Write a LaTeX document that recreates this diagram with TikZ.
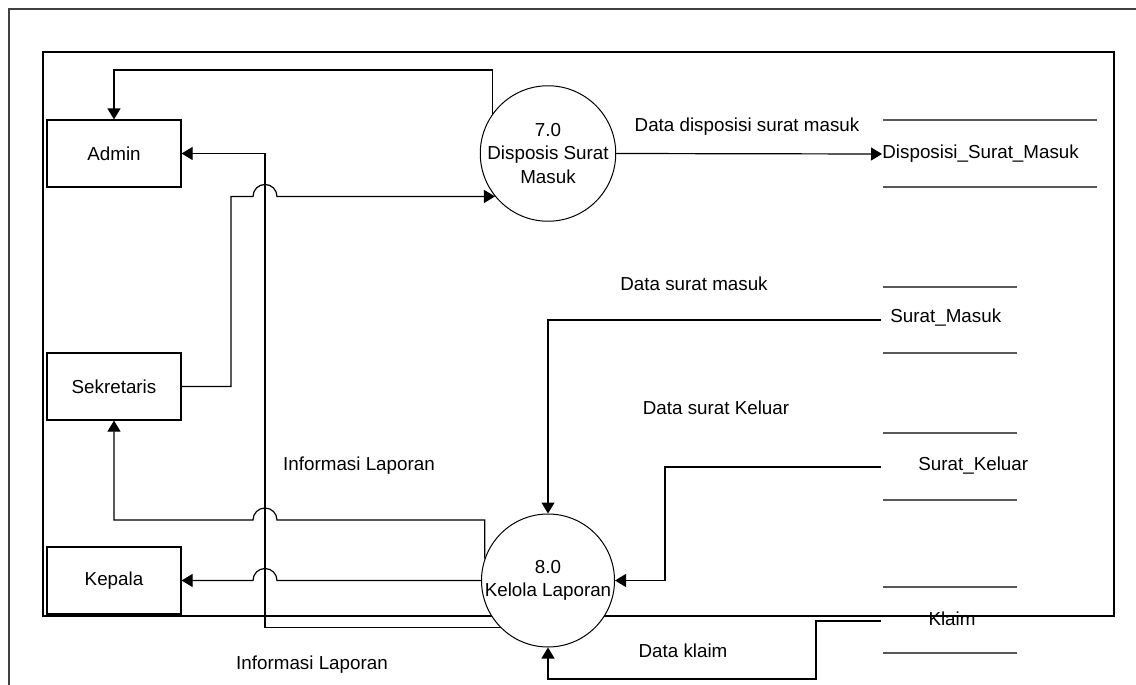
\documentclass[tikz,border=0pt]{standalone}
\usepackage{fontspec}
\setmainfont{Liberation Sans}
\usetikzlibrary{arrows.meta,calc}

\begin{document}
\begin{tikzpicture}[x=0.5pt,y=-0.5pt,
  font=\fontsize{9.4pt}{11.8pt}\selectfont,
  entity/.style={draw, line width=0.6pt, minimum width=67pt, minimum height=33.5pt, inner sep=0pt},
  proc/.style={draw, circle, fill=white, line width=0.5pt, minimum size=66.5pt, inner sep=0pt, align=center},
  storetext/.style={inner sep=0pt, anchor=west},
  storeline/.style={draw=black!65, line width=0.8pt},
  flow/.style={line width=0.6pt, -{Triangle[length=5.5pt,width=6.5pt]}},
  lbl/.style={inner sep=0pt},
  frame/.style={line width=0.6pt},
  outer/.style={draw=black!75, line width=1pt}
]
\useasboundingbox (0,0) rectangle (1136,685);

% page frame and context boundary
\draw[outer] (1136,8.5) -- (8.5,8.5) -- (8.5,685);
\draw[frame] (43,52) rectangle (1114,616);

% external entities
\node[entity] (admin) at (114,153.5) {Admin};
\node[entity] (sek)   at (114,386.5) {Sekretaris};
\node[entity] (kep)   at (114,580.5) {Kepala};

% processes
\node[proc] (p7) at (548,153.5) {7.0\\Disposis Surat\\Masuk};
\node[proc] (p8) at (548,580.5) {8.0\\Kelola Laporan};

% data stores
\draw[storeline] (883,120) -- (1097,120);
\draw[storeline] (883,187) -- (1097,187);
\node[storetext] (dsm) at (882,154) {Disposisi\_Surat\_Masuk};

\draw[storeline] (883,287) -- (1017,287);
\draw[storeline] (883,353) -- (1017,353);
\node[storetext] (sm) at (890,318) {Surat\_Masuk};

\draw[storeline] (883,433) -- (1017,433);
\draw[storeline] (883,500) -- (1017,500);
\node[storetext] (sk) at (918,466) {Surat\_Keluar};

\draw[storeline] (883,587) -- (1017,587);
\draw[storeline] (883,653) -- (1017,653);
\node[lbl] (kl) at (952,619) {Klaim};

% helper coordinates for routing
\coordinate (topy) at (0,70);
\coordinate (busx) at (265,0);
\coordinate (sekx) at (231,0);
\coordinate (hopA) at (p7.219 -| busx);
\coordinate (hopB) at (265,520);
\coordinate (hopC) at (p8.west -| busx);
\coordinate (smin) at (881,320);
\coordinate (skin) at (881,467);
\coordinate (skbend) at (665,467);
\coordinate (klin) at (881,621);
\coordinate (klbend) at (816,621);
\coordinate (klbot) at (816,679);

% flows of process 7.0
\draw[flow] (p7.145) -- (p7.145 |- topy) -| (admin.north);
\draw[flow] (sek.east) -| (hopA -| sekx) -- ([xshift=-6pt]hopA)
  arc[start angle=180,end angle=0,radius=6pt] -- (p7.219);
\draw[flow] (p7.east) -- (dsm.west);

% flows of process 8.0
\draw[flow] (p8.225) -| (busx |- admin.east) -- (admin.east);
\draw[flow] (p8.161) -- (p8.161 |- hopB) -- ([xshift=6pt]hopB)
  arc[start angle=0,end angle=180,radius=6pt] -- (sek.south |- hopB) -- (sek.south);
\draw[flow] (p8.west) -- ([xshift=6pt]hopC)
  arc[start angle=0,end angle=180,radius=6pt] -- (kep.east);
\draw[flow] (smin) -| (p8.north);
\draw[flow] (skin) -- (skbend) |- (p8.east);
\draw[flow] (klin) -- (klbend) -- (klbot) -| (p8.south);

% flow labels
\node[lbl] (l1) at (747,127) {Data disposisi surat masuk};
\node[lbl] (l2) at (694,284) {Data surat masuk};
\node[lbl] (l3) at (716,408) {Data surat Keluar};
\node[lbl] (l4) at (359,466) {Informasi Laporan};
\node[lbl] (l5) at (312,665) {Informasi Laporan};
\node[lbl] (l6) at (683,651) {Data klaim};
\end{tikzpicture}
\end{document}
